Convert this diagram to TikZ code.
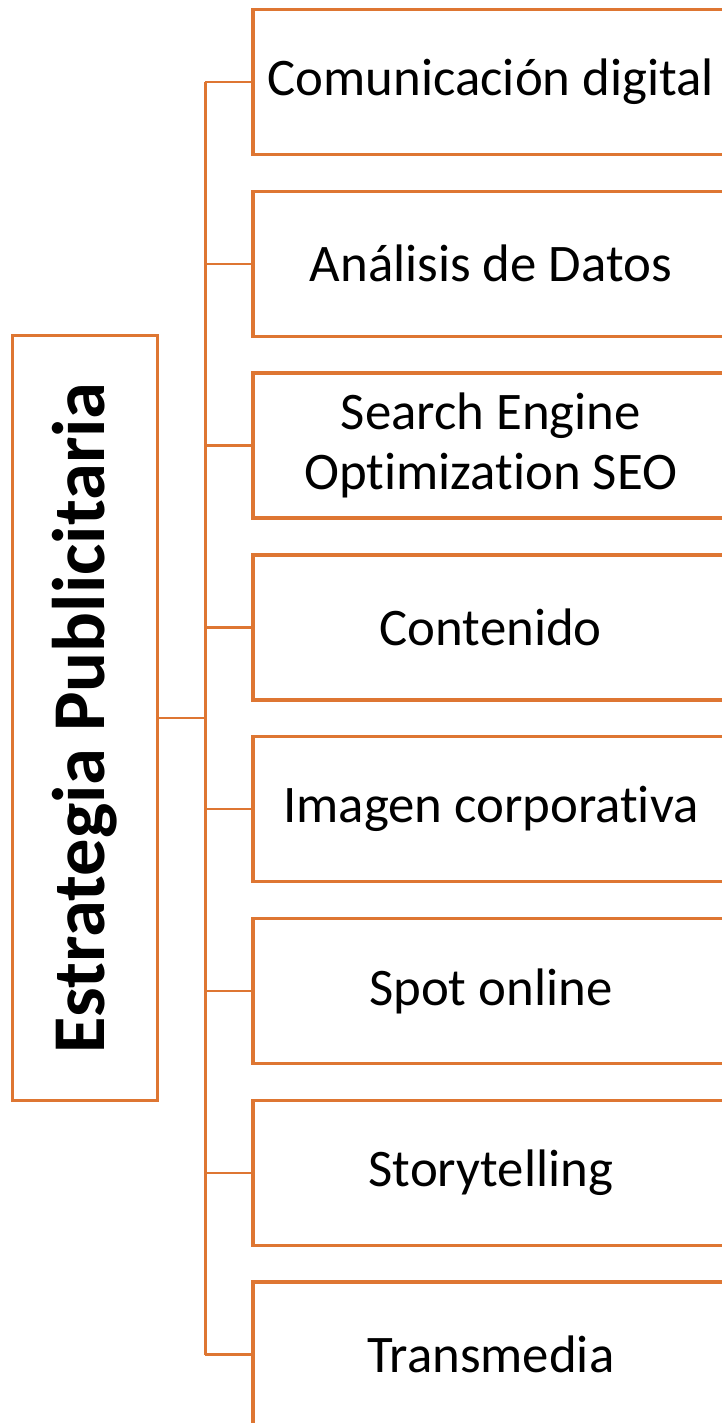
\documentclass[tikz,border=0pt]{standalone}
\usepackage{fontspec}
\setmainfont{Carlito}
\usepackage{tikz}
\usetikzlibrary{positioning}

\definecolor{accent}{RGB}{222,118,50}

\begin{document}
\begin{tikzpicture}[
    x=1pt, y=1pt,
    node distance=33.3pt,
    box/.style={
        rectangle,
        draw=accent,
        fill=white,
        line width=#1,
        align=center,
        inner sep=0pt
    },
    branch/.style={
        box=3.5pt,
        minimum width=476pt,
        minimum height=145pt,
        font=\fontsize{52.8}{60}\selectfont
    },
    root/.style={
        box=3.2pt,
        rotate=90,
        minimum width=764.6pt,
        minimum height=145.4pt,
        font=\bfseries\fontsize{74.5}{80}\selectfont
    },
    link/.style={draw=accent, line width=2.5pt}
]

\clip (0,0) rectangle (722,-1423);

% Root
\node[root] (estrategia) at (85,-718) {Estrategia Publicitaria};

% Branches (\kern0pt keeps the t and i apart)
\node[branch] (comdig) at (490.8,-82) {Comunicación digital};
\node[branch, below=of comdig] (datos) {Análisis de Datos};
\node[branch, below=of datos] (seo) {Search Engine\\Opt\kern0pt imizat\kern0pt ion SEO};
\node[branch, below=of seo] (contenido) {Contenido};
\node[branch, below=of contenido] (imagen) {Imagen corporat\kern0pt iva};
\node[branch, below=of imagen] (spot) {Spot online};
\node[branch, below=of spot] (story) {Storytelling};
\node[branch, below=of story] (trans) {Transmedia};

% Bus line
\coordinate (bus) at (205.3,0);
\draw[link] (estrategia.south) -- (bus |- estrategia.south);
\draw[link] (bus |- comdig.west) -- (bus |- trans.west);

% Stubs to branches
\draw[link] (bus |- comdig.west) -- (comdig.west);
\draw[link] (bus |- datos.west) -- (datos.west);
\draw[link] (bus |- seo.west) -- (seo.west);
\draw[link] (bus |- contenido.west) -- (contenido.west);
\draw[link] (bus |- imagen.west) -- (imagen.west);
\draw[link] (bus |- spot.west) -- (spot.west);
\draw[link] (bus |- story.west) -- (story.west);
\draw[link] (bus |- trans.west) -- (trans.west);

\end{tikzpicture}
\end{document}
